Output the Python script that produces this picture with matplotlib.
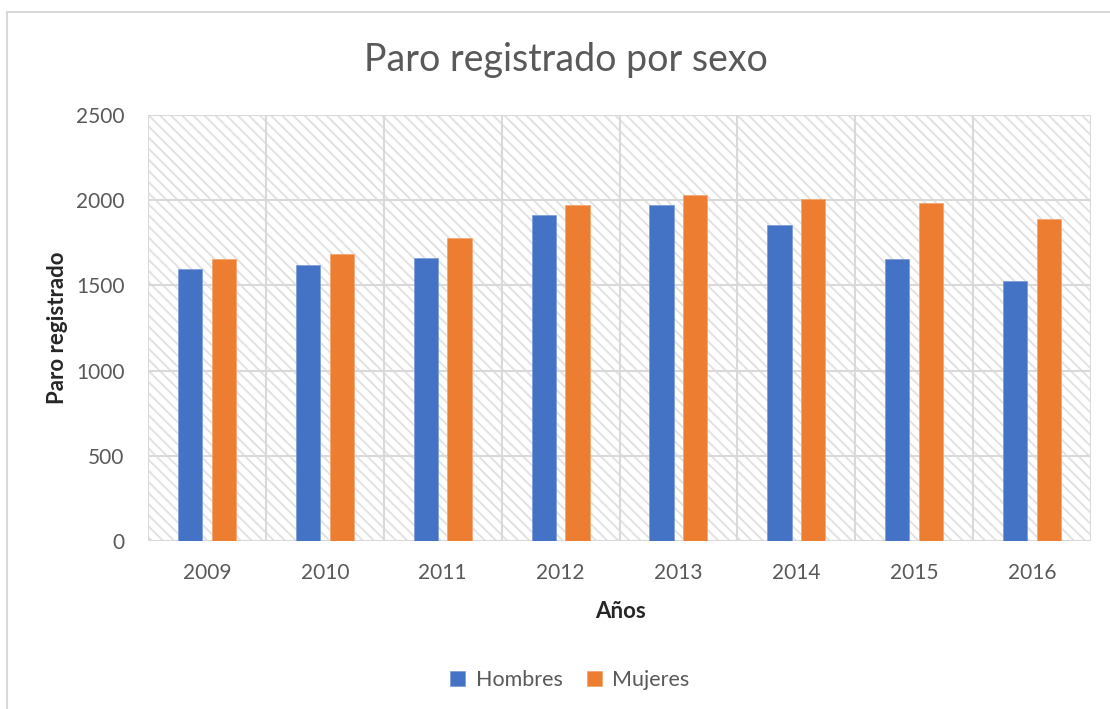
import matplotlib
matplotlib.use("Agg")
import matplotlib.pyplot as plt
from matplotlib.patches import Rectangle
import numpy as np

years = ["2009", "2010", "2011", "2012", "2013", "2014", "2015", "2016"]
hombres = [1595, 1618, 1661, 1913, 1972, 1854, 1653, 1524]
mujeres = [1653, 1686, 1778, 1972, 2030, 2005, 1982, 1888]
yticks = [0, 500, 1000, 1500, 2000, 2500]

FONT = ["Lato", "DejaVu Sans"]
plt.rcParams['font.family'] = FONT
plt.rcParams['hatch.linewidth'] = 1.4
plt.rcParams['hatch.color'] = '#e2e2e2'

W, H = 1110, 709
fig = plt.figure(figsize=(W / 100, H / 100), dpi=100)
fig.patch.set_facecolor('white')

# outer chart border (clipped at right/bottom as in reference)
fig.patches.append(Rectangle((7 / W, -0.05), 1.2, 1 - 12 / H + 0.05, transform=fig.transFigure,
                             fill=False, edgecolor='#d9d9d9', linewidth=1.5, zorder=0))

ax = fig.add_axes([148 / W, 1 - 541 / H, (1091 - 148) / W, (541 - 115) / H])
ax.set_facecolor('white')
ax.add_patch(Rectangle((0, 0), 1, 1, transform=ax.transAxes, facecolor='white',
                       hatch='\\\\\\', edgecolor='#e2e2e2', linewidth=0, zorder=0))

x = np.arange(len(years))
bw = 0.205
off = 0.143
ax.bar(x - off, hombres, bw, color='#4472C4', edgecolor='#7f9fd8', linewidth=0.6, zorder=3, label='Hombres')
ax.bar(x + off, mujeres, bw, color='#ED7D31', edgecolor='#f3a774', linewidth=0.6, zorder=3, label='Mujeres')

ax.set_xlim(-0.5, len(years) - 0.5)
ax.set_ylim(0, 2500)
ax.set_yticks(yticks)
ax.set_xticks(x)
ax.set_xticklabels(years)
ax.tick_params(axis='both', length=0, labelsize=15, labelcolor='#595959')
ax.tick_params(axis='y', pad=17)
ax.tick_params(axis='x', pad=16)

for yv in yticks:
    ax.axhline(yv, color='#d9d9d9', linewidth=1.5, zorder=1)
for xv in np.arange(-0.5, len(years), 1.0):
    ax.axvline(xv, color='#d9d9d9', linewidth=1.5, zorder=1)
for s in ax.spines.values():
    s.set_visible(False)

fig.text(566 / W, 1 - 60 / H, "Paro registrado por sexo", ha='center', va='center',
         fontsize=27, color='#595959')
fig.text(57 / W, 1 - 328 / H, "Paro registrado", ha='center', va='center', rotation=90,
         fontsize=16, fontweight='bold', color='#262626')
fig.text(621 / W, 1 - 612 / H, "Años", ha='center', va='center',
         fontsize=16, fontweight='bold', color='#262626')

leg = fig.legend(loc='center', bbox_to_anchor=(570 / W, 1 - 680 / H), ncol=2, frameon=False,
                 fontsize=15.5, handlelength=0.7, handleheight=0.7, handletextpad=0.5,
                 columnspacing=1.1)
for t in leg.get_texts():
    t.set_color('#595959')

fig.savefig("out.png", dpi=100, facecolor='white')
